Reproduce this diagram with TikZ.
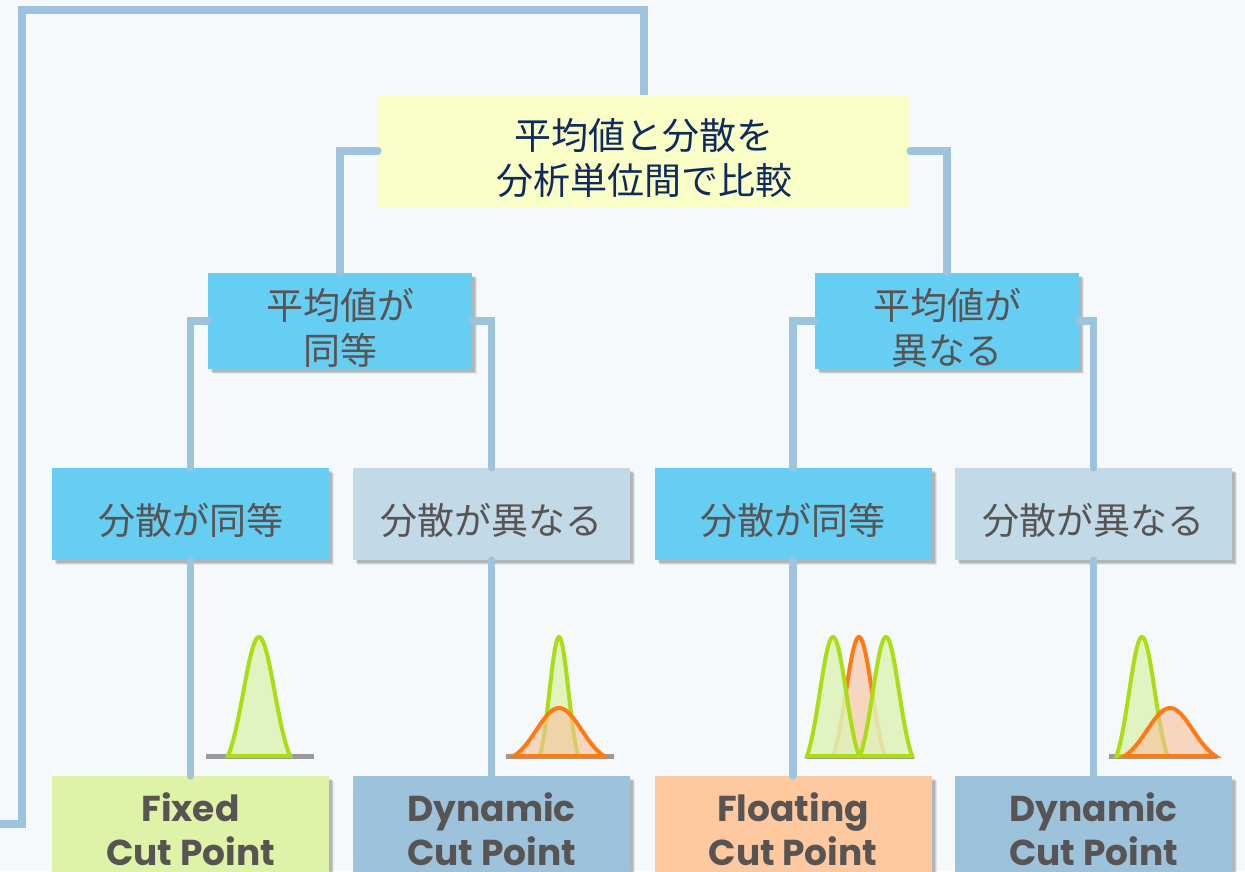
\documentclass[tikz,border=0pt]{standalone}
\usepackage{fontspec}
\newfontfamily\jp{Noto Sans CJK JP}
\newfontfamily\pop{Poppins}
\usetikzlibrary{shadows}
\definecolor{bg}{HTML}{F5F9FC}
\definecolor{conn}{HTML}{9DC3DD}
\definecolor{topfill}{HTML}{FAFFC8}
\definecolor{navy}{HTML}{0F2A5C}
\definecolor{txtgray}{HTML}{595454}
\definecolor{skyfill}{HTML}{66CEF2}
\definecolor{palefill}{HTML}{C2D9E8}
\definecolor{greenbox}{HTML}{DFF3A8}
\definecolor{bluebox}{HTML}{9DC2DC}
\definecolor{orangebox}{HTML}{FFC9A0}
\definecolor{gline}{HTML}{A9DE14}
\definecolor{gfill}{HTML}{DFF2B9}
\definecolor{oline}{HTML}{FF7A12}
\definecolor{ofill}{HTML}{F8C09A}
\definecolor{baseg}{HTML}{9A9A9A}
\tikzset{
  conline/.style={draw=conn, line width=7.5pt, line cap=round, line join=miter},
  boxbase/.style={rectangle, inner sep=0pt, align=center},
  shad/.style={
    general shadow={shadow xshift=5pt, shadow yshift=-5pt, fill=black, opacity=0.07},
    general shadow={shadow xshift=4pt, shadow yshift=-4pt, fill=black, opacity=0.10},
    general shadow={shadow xshift=3pt, shadow yshift=-3pt, fill=black, opacity=0.12}},
  jptext/.style={font=\jp\fontsize{37}{45}\selectfont, text height=46pt, text depth=4.5pt},
  jptwo/.style={font=\jp\fontsize{37}{45}\selectfont, text height=91.5pt, text depth=4.5pt},
  topbox/.style={boxbase, jptwo, fill=topfill, text=navy, minimum width=532pt, minimum height=112pt},
  midbox/.style={boxbase, jptwo, shad, fill=skyfill, text=txtgray, minimum width=264pt, minimum height=92pt},
  lvbox/.style={boxbase, jptext, shad, text=txtgray, minimum width=277pt, minimum height=92pt},
  endbox/.style={boxbase, shad, text=txtgray, minimum width=277pt, minimum height=106pt,
     font=\pop\bfseries\fontsize{36}{44}\selectfont},
  baseln/.style={draw=baseg, line width=5pt},
  gcurve/.style={draw=gline, fill=gfill, fill opacity=0.85, line width=4pt},
  ocurve/.style={draw=oline, fill=ofill, fill opacity=0.6, line width=4pt},
}
% truncated gaussian: #1 cx, #2 base y, #3 height, #4 sigma, #5 style
\newcommand{\gauss}[5]{%
  \path[#5] plot[domain={-2*#4}:{2*#4}, samples=60, smooth]
    ({#1+\x},{#2-#3*(exp(-\x*\x/(2*#4*#4))-0.1353)/(1-0.1353)}) -- cycle;}
\begin{document}
\begin{tikzpicture}[x=1pt,y=-1pt]
\fill[bg] (0,0) rectangle (1245,871);
\useasboundingbox (0,0) rectangle (1245,871);
\clip (0,0) rectangle (1245,871);

% nodes
\node[topbox] (top) at (644,151) {平均値と分散を\\分析単位間で比較};
\node[midbox] (m1) at (340,321) {平均値が\\同等};
\node[midbox] (m2) at (947,321) {平均値が\\異なる};
\node[lvbox, fill=skyfill] (b1) at (190.5,514) {分散が同等};
\node[lvbox, fill=palefill] (b2) at (491.5,514) {分散が異なる};
\node[lvbox, fill=skyfill] (b3) at (793,514) {分散が同等};
\node[lvbox, fill=palefill] (b4) at (1093.5,514) {分散が異なる};
\node[endbox, fill=greenbox] (e1) at (190.5,829) {Fixed\\Cut Point};
\node[endbox, fill=bluebox] (e2) at (491.5,829) {Dynamic\\Cut Point};
\node[endbox, fill=orangebox] (e3) at (793,829) {Floating\\Cut Point};
\node[endbox, fill=bluebox] (e4) at (1093.5,829) {Dynamic\\Cut Point};

% connectors
\draw[conline] (top.west) -| (m1.north);
\draw[conline] (top.east) -| (m2.north);
\draw[conline] (m1.west) -| (b1.north);
\draw[conline] (m1.east) -| (b2.north);
\draw[conline] (m2.west) -| (b3.north);
\draw[conline] (m2.east) -| (b4.north);
\draw[conline] (b1.south) -- (e1.north);
\draw[conline] (b2.south) -- (e2.north);
\draw[conline] (b3.south) -- (e3.north);
\draw[conline] (b4.south) -- (e4.north);
\coordinate (loopTL) at (22,10);
\coordinate (loopEnd) at (-10,824);
\draw[conline, line cap=butt] (top.north) -- (top.north |- loopTL) -- (loopTL) -- (loopTL |- loopEnd) -- (loopEnd);

% distributions
\draw[baseln] (206,756) -- (314,756);
\gauss{259}{756}{119}{15.5}{gcurve}

\draw[baseln] (506,756) -- (614,756);
\gauss{559}{756}{119}{9.5}{gcurve}
\gauss{559}{756}{48}{22.5}{ocurve}

\draw[baseln] (806,756) -- (914,756);
\gauss{859}{756}{119}{13}{ocurve}
\gauss{833}{756}{119}{13}{gcurve}
\gauss{886}{756}{119}{13}{gcurve}

\draw[baseln] (1109,756) -- (1217,756);
\gauss{1142}{756}{119}{12.75}{gcurve}
\gauss{1170}{756}{48}{22.7}{ocurve}
\end{tikzpicture}
\end{document}
